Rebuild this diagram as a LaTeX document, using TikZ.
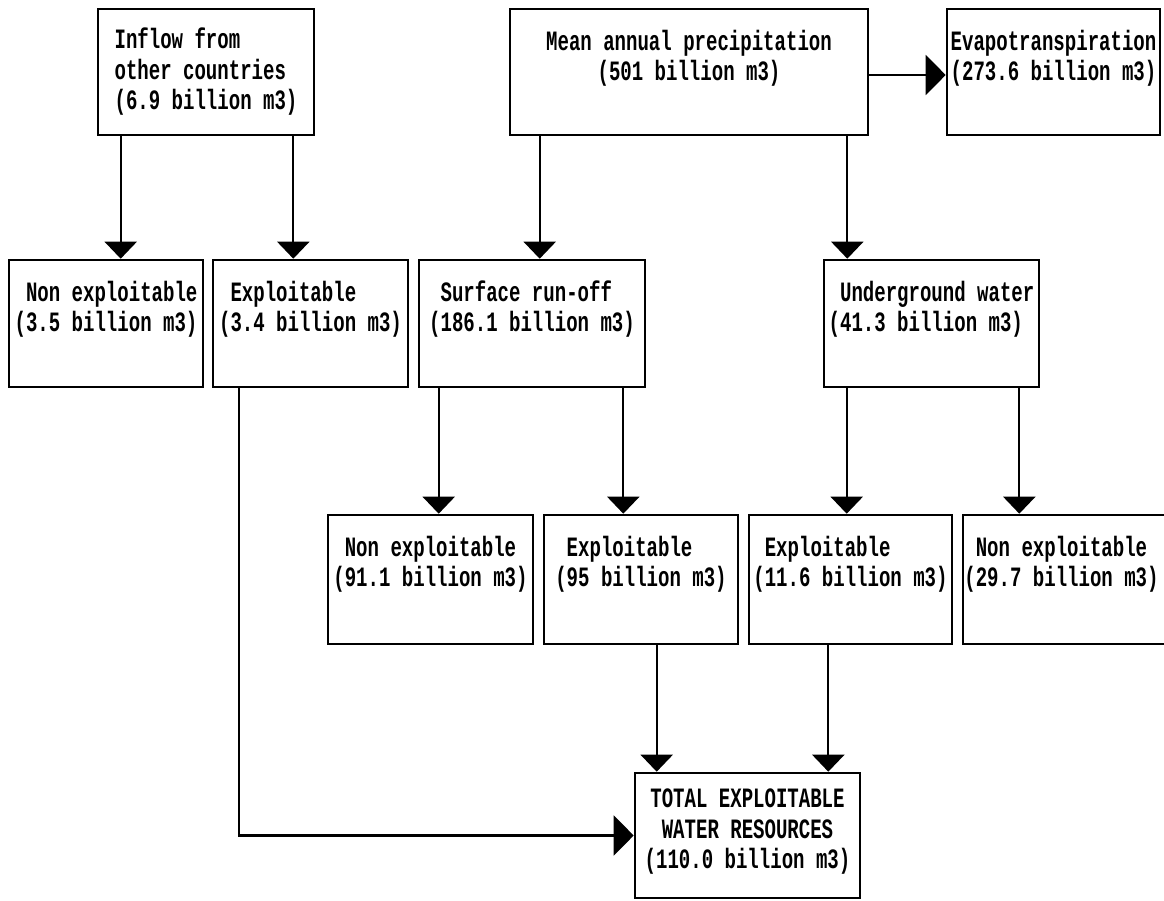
\documentclass[tikz,border=0pt]{standalone}
\usepackage{fontspec}
\usepackage{tikz}
\usetikzlibrary{arrows.meta, fit}
\newfontfamily\boxfont[FakeStretch=0.68]{Liberation Mono}
\newcommand{\lead}{\hphantom{0}}

\begin{document}
\begin{tikzpicture}[
    x=0.5pt, y=-0.5pt,
    frame/.style={rectangle, draw, line width=1.3pt, inner sep=0pt},
    boxtext/.style={inner sep=0pt, anchor=base, align=left, font=\boxfont\bfseries\fontsize{14}{15.25}\selectfont},
    arrow/.style={-{Triangle[width=16pt, length=8.5pt]}, line width=1.1pt},
    sidearrow/.style={-{Triangle[width=20pt, length=10pt]}, line width=1.1pt}
]
\useasboundingbox (0,0) rectangle (1164,901);
\clip (0,0) rectangle (1164,901);

\node[frame, fit={(98,9) (314,135)}] (inflow) {};
\node[frame, fit={(510,9) (868,135)}] (precip) {};
\node[frame, fit={(947,9) (1160,135)}] (evap) {};
\node[frame, fit={(9,260) (203,387)}] (nonex1) {};
\node[frame, fit={(213,260) (408,387)}] (expl1) {};
\node[frame, fit={(419,260) (645,387)}] (runoff) {};
\node[frame, fit={(824,260) (1039,387)}] (ground) {};
\node[frame, fit={(328,515) (533,644)}] (nonex2) {};
\node[frame, fit={(544,515) (738,644)}] (expl2) {};
\node[frame, fit={(749,515) (952,644)}] (expl3) {};
\node[frame, fit={(963,515) (1172,644)}] (nonex3) {};
\node[frame, fit={(635,773) (860,898)}] (total) {};

\node[boxtext] (inflow-txt) at ([shift={(0,102)}]inflow.north) {Inflow from\\other countries\\(6.9 billion m3)};
\node[boxtext, align=center] (precip-txt) at ([shift={(0,73)}]precip.north) {Mean annual precipitation\\(501 billion m3)};
\node[boxtext] (evap-txt) at ([shift={(0,73)}]evap.north) {Evapotranspiration\\(273.6 billion m3)};
\node[boxtext] (nonex1-txt) at ([shift={(0,73)}]nonex1.north) {\lead Non exploitable\\(3.5 billion m3)};
\node[boxtext] (expl1-txt) at ([shift={(0,73)}]expl1.north) {\lead Exploitable\\(3.4 billion m3)};
\node[boxtext] (runoff-txt) at ([shift={(0,73)}]runoff.north) {\lead Surface run-off\\(186.1 billion m3)};
\node[boxtext] (ground-txt) at ([shift={(0,73)}]ground.north) {\lead Underground water\\(41.3 billion m3)};
\node[boxtext] (nonex2-txt) at ([shift={(0,73)}]nonex2.north) {\lead Non exploitable\\(91.1 billion m3)};
\node[boxtext] (expl2-txt) at ([shift={(0,73)}]expl2.north) {\lead Exploitable\\(95 billion m3)};
\node[boxtext] (expl3-txt) at ([shift={(0,73)}]expl3.north) {\lead Exploitable\\(11.6 billion m3)};
\node[boxtext] (nonex3-txt) at ([shift={(-6,73)}]nonex3.north) {\lead Non exploitable\\(29.7 billion m3)};
\node[boxtext, align=center] (total-txt) at ([shift={(0,97)}]total.north) {TOTAL EXPLOITABLE\\WATER RESOURCES\\(110.0 billion m3)};

\coordinate (a1) at ([shift={(24,0)}]inflow.south west);
\coordinate (a2) at ([shift={(-22,0)}]inflow.south east);
\coordinate (a3) at ([shift={(31,0)}]precip.south west);
\coordinate (a4) at ([shift={(-22,0)}]precip.south east);
\coordinate (a5) at ([shift={(21,0)}]runoff.south west);
\coordinate (a6) at ([shift={(-23,0)}]runoff.south east);
\coordinate (a7) at ([shift={(24,0)}]ground.south west);
\coordinate (a8) at ([shift={(-21,0)}]ground.south east);
\coordinate (t1) at ([shift={(23,0)}]total.north west);
\coordinate (t2) at ([shift={(-33,0)}]total.north east);
\coordinate (b1) at ([shift={(27,0)}]expl1.south west);

\draw[arrow] (a1) -- (a1 |- nonex1.north);
\draw[arrow] (a2) -- (a2 |- expl1.north);
\draw[arrow] (a3) -- (a3 |- runoff.north);
\draw[arrow] (a4) -- (a4 |- ground.north);
\draw[arrow] (a5) -- (a5 |- nonex2.north);
\draw[arrow] (a6) -- (a6 |- expl2.north);
\draw[arrow] (a7) -- (a7 |- expl3.north);
\draw[arrow] (a8) -- (a8 |- nonex3.north);
\draw[arrow] (t1 |- expl2.south) -- (t1);
\draw[arrow] (t2 |- expl3.south) -- (t2);
\draw[sidearrow] ([shift={(0,3)}]precip.east) -- ([shift={(0,3)}]precip.east -| evap.west);
\draw[sidearrow] (b1) |- (total.west);

\end{tikzpicture}
\end{document}
